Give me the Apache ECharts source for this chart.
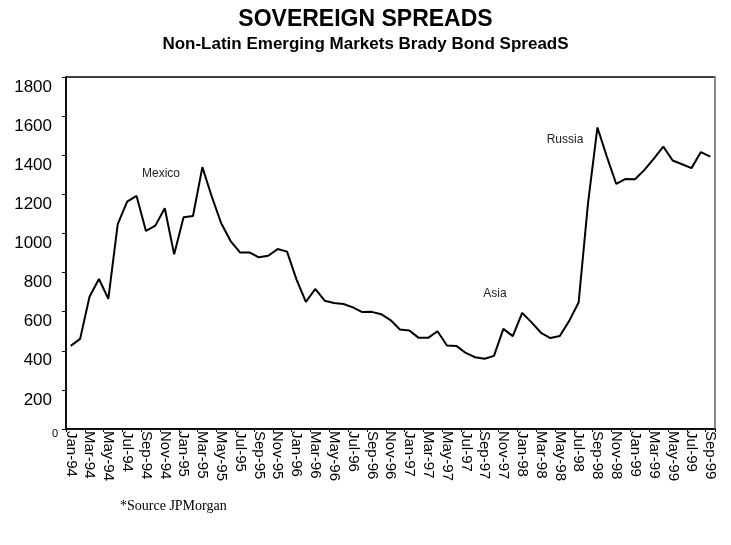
<!DOCTYPE html>
<html>
<head>
<meta charset="utf-8">
<script src="https://cdn.jsdelivr.net/npm/echarts@6/dist/echarts.min.js"></script>
<style>html,body{margin:0;padding:0;background:#fff;}#c{width:731px;height:545px;}</style>
</head>
<body>
<div id="c"></div>
<script>
const months = ['Jan','Feb','Mar','Apr','May','Jun','Jul','Aug','Sep','Oct','Nov','Dec'];
const years = ['94','95','96','97','98','99'];
const categories = [];
for (const y of years) for (const m of months) categories.push(m + '-' + y);
categories.length = 69; // Jan-94 .. Sep-99

const spreads = [425,461,676,767,666,1048,1163,1192,1013,1040,1129,893,
  1083,1089,1339,1188,1052,961,903,903,878,886,920,907,
  765,650,716,656,644,639,622,598,599,587,557,509,
  504,466,466,500,427,425,389,367,359,374,512,475,
  594,545,492,465,476,553,647,1155,1542,1393,1253,1279,
  1277,1325,1383,1444,1373,1354,1334,1416,1393];

const yTicks = [0,200,400,600,800,1000,1200,1400,1600,1800];
const notes = [
  {name:'Mexico', x:161, y:174},
  {name:'Asia', x:495, y:294},
  {name:'Russia', x:565, y:140}
];

const chart = echarts.init(document.getElementById('c'));
chart.setOption({
  animation:false,
  backgroundColor:'#fff',
  title:[
    {text:'SOVEREIGN SPREADS', left:'center', top:3,
     textStyle:{fontFamily:'Liberation Sans, Arial', fontSize:23, fontWeight:'bold', color:'#000'}},
    {text:'Non-Latin Emerging Markets Brady Bond SpreadS', left:'center', top:31,
     textStyle:{fontFamily:'Liberation Sans, Arial', fontSize:17, fontWeight:'bold', color:'#000'}}
  ],
  grid:{left:66, right:16, top:77, bottom:116, show:true, borderColor:'#000', borderWidth:1.5},
  xAxis:{
    type:'category', data:categories, boundaryGap:true,
    axisLine:{lineStyle:{color:'#000', width:1.5}},
    axisTick:{show:true, interval:1, length:3, lineStyle:{color:'#000'}},
    axisLabel:{interval:1, rotate:-90, fontFamily:'Liberation Sans, Arial', fontSize:15, color:'#000', margin:2}
  },
  yAxis:[{
    type:'value', min:0, max:1800, interval:200,
    axisLine:{show:true, lineStyle:{color:'#000', width:1.5}},
    axisTick:{show:true, length:4, lineStyle:{color:'#000'}},
    splitLine:{show:false},
    axisLabel:{fontFamily:'Liberation Sans, Arial', color:'#000', margin:8,
      formatter:function(v){ return yTicks.indexOf(v) >= 0 ? (v===0 ? '{s|0}' : '{n|' + v + '}') : ''; },
      rich:{
        n:{fontSize:17, fontFamily:'Liberation Sans, Arial', color:'#000', padding:[20,6,0,0]},
        s:{fontSize:11, fontFamily:'Liberation Sans, Arial', color:'#000', padding:[10,0,0,0]}
      }}
  },{
    type:'value', min:0, max:1800, position:'right',
    axisLine:{show:true, lineStyle:{color:'#888', width:2}},
    axisTick:{show:false}, axisLabel:{show:false}, splitLine:{show:false}
  }],
  series:[{
    type:'line', data:spreads, symbol:'none',
    lineStyle:{color:'#000', width:2}
  }],
  graphic: notes.map(n => ({
    type:'text', x:n.x, y:n.y,
    style:{text:n.name, fill:'#222', font:'12px "Liberation Sans", Arial', textAlign:'center', textVerticalAlign:'middle'}
  })).concat([{
    type:'text', left:120, top:499,
    style:{text:'*Source JPMorgan', fill:'#000', font:'14px "Liberation Serif", "Times New Roman", serif'}
  }])
});
</script>
</body>
</html>
